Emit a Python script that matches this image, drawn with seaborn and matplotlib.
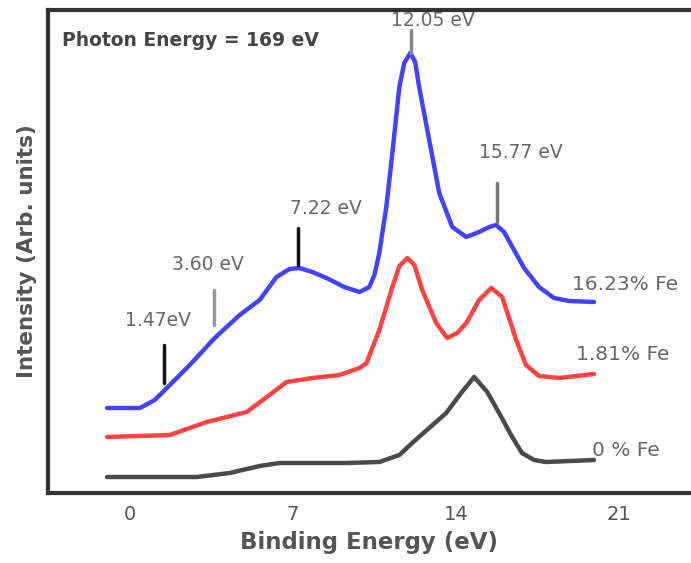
import numpy as np
import pandas as pd
import matplotlib
matplotlib.use("Agg")
import matplotlib.pyplot as plt
import seaborn as sns

# ---- data ----
blue_x = [-0.98, 0.43, 1.07, 1.80, 2.57, 3.64, 4.71, 5.57, 6.29, 6.85, 7.28, 7.83, 8.43, 9.20,
          9.85, 10.27, 10.49, 10.70, 11.00, 11.26, 11.56, 11.77, 12.03, 12.24, 12.41, 12.84,
          13.27, 13.83, 14.43, 14.98, 15.41, 15.71, 16.05, 16.48, 16.91, 17.55, 18.19, 18.84, 19.91]
blue_y = [85, 85, 93, 110, 128, 155, 178, 193, 216, 224, 225, 221, 215, 206,
          201, 206, 218, 240, 286, 340, 406, 430, 440, 431, 406, 353,
          300, 266, 256, 261, 266, 268, 261, 243, 225, 206, 195, 192, 191]

red_x = [-0.98, 1.71, 3.30, 5.01, 5.99, 6.72, 7.83, 8.99, 9.85, 10.15, 10.70, 11.26, 11.56,
         11.90, 12.20, 12.54, 13.14, 13.61, 14.04, 14.43, 14.98, 15.50, 15.97, 16.57, 16.99,
         17.55, 18.41, 19.91]
red_y = [56, 58, 71, 81, 98, 111, 115, 118, 125, 130, 163, 206, 227,
         235, 228, 203, 170, 155, 160, 170, 193, 205, 196, 153, 128,
         117, 115, 119]

black_x = [-0.98, 2.87, 4.28, 5.57, 6.42, 9.29, 10.70, 11.56, 12.11, 12.84, 13.57, 14.21, 14.77,
           15.33, 15.84, 16.35, 16.82, 17.34, 17.85, 19.91]
black_y = [16, 16, 20, 27, 30, 30, 31, 38, 50, 65, 80, 100, 116,
           101, 80, 58, 40, 33, 31, 33]

series_names = ["16.23% Fe", "1.81% Fe", "0 % Fe"]
series_colors = ["#1a1aff", "#ff1a1a", "#222222"]

peak_energies = [1.47, 3.60, 7.22, 12.05, 15.77]
peak_labels = ["1.47eV", "3.60 eV", "7.22 eV", "12.05 eV", "15.77 eV"]
xticks_major = [0, 7, 14, 21]
xticks_minor = [-3.5, 3.5, 10.5, 17.5]

df = pd.concat([
    pd.DataFrame({"x": blue_x, "y": blue_y, "s": series_names[0]}),
    pd.DataFrame({"x": red_x, "y": red_y, "s": series_names[1]}),
    pd.DataFrame({"x": black_x, "y": black_y, "s": series_names[2]}),
], ignore_index=True)

sns.set_style("white")
plt.rcParams["font.family"] = ["DejaVu Sans"]

fig = plt.figure(figsize=(6.91, 5.63), dpi=100)
ax = fig.add_axes([48 / 691, 70 / 563, 1 - 48 / 691, 483 / 563])

sns.lineplot(data=df, x="x", y="y", hue="s", palette=series_colors, sort=False,
             linewidth=3.2, alpha=0.82, legend=False, ax=ax, estimator=None)

ax.set_xlim(-3.51, 24.07)
ax.set_ylim(0, 483)
ax.set_yticks([])
ax.set_xticks(xticks_major)
ax.set_xticks(xticks_minor, minor=True)
ax.tick_params(axis="x", which="major", direction="in", length=10, width=2.2,
               color="#222222", labelsize=14, labelcolor="#555555", pad=9)
ax.tick_params(axis="x", which="minor", direction="in", length=6, width=2.2, color="#333333")

for side in ["left", "bottom", "top"]:
    ax.spines[side].set_color("#333333")
    ax.spines[side].set_linewidth(3)
ax.spines["right"].set_visible(False)

ax.set_xlabel("Binding Energy (eV)", fontsize=16.5, fontweight="bold", color="#555555", labelpad=5)
ax.set_ylabel("Intensity (Arb. units)", fontsize=15.5, fontweight="bold", color="#555555", labelpad=8)

# peak marker bars
marker_bottom = [110, 168, 228, 440, 271]
marker_top = [148, 203, 265, 463, 310]
marker_colors = ["#111111", "#999999", "#111111", "#888888", "#777777"]
for e, b, t, c in zip(peak_energies, marker_bottom, marker_top, marker_colors):
    ax.plot([e, e], [b, t], color=c, linewidth=2.5)

label_pos = [(1.20, 173), (3.34, 228), (8.43, 285), (13.00, 472), (16.78, 341)]
for (lx, ly), txt in zip(label_pos, peak_labels):
    ax.text(lx, ly, txt, ha="center", va="center", fontsize=13.5, color="#666666")

ax.text(-2.91, 453, "Photon Energy = 169 eV", ha="left", va="center", fontsize=13.5,
        fontweight="bold", color="#444444")

series_label_pos = [(18.96, 208), (19.13, 138), (19.82, 43)]
for (lx, ly), txt in zip(series_label_pos, series_names):
    ax.text(lx, ly, txt, ha="left", va="center", fontsize=14.5, color="#666666")

fig.savefig("out.png", dpi=100)
